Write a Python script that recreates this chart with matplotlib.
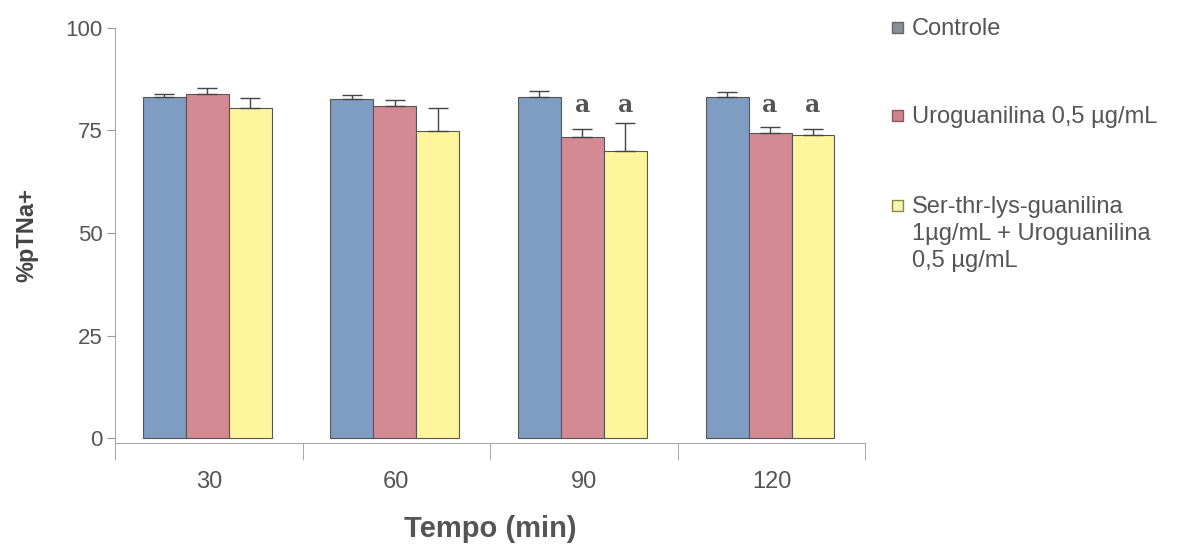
import matplotlib
matplotlib.use("Agg")
import matplotlib.pyplot as plt
import numpy as np
from matplotlib.patches import Rectangle

categories = ["30", "60", "90", "120"]
series_names = ["Controle", "Uroguanilina 0,5 µg/mL",
                "Ser-thr-lys-guanilina\n1µg/mL + Uroguanilina\n0,5 µg/mL"]
controle = [83.2, 82.7, 83.2, 83.2]
urog = [83.9, 81.0, 73.4, 74.4]
ser = [80.5, 74.9, 70.0, 73.9]
controle_err = [0.7, 0.9, 1.4, 1.2]
urog_err = [1.5, 1.4, 2.0, 1.5]
ser_err = [2.4, 5.6, 6.8, 1.5]
marks = [["", "", ""], ["", "", ""], ["", "a", "a"], ["", "a", "a"]]
yticks = [0, 25, 50, 75, 100]

bar_colors = ["#7f9cc2", "#d38a92", "#fff59c"]
legend_colors = ["#8a8f96", "#cf8390", "#f3f3b5"]
legend_edges = ["#666666", "#8a5a60", "#8a8a30"]

plt.rcParams['font.family'] = ['Liberation Sans', 'DejaVu Sans']
fig = plt.figure(figsize=(11.77, 5.44), dpi=100)
ax = fig.add_axes([0.0977, 0.1857, 0.6375, 0.763])

x = np.arange(len(categories))
w = 0.229
data = [controle, urog, ser]
errs = [controle_err, urog_err, ser_err]
for i, (vals, e) in enumerate(zip(data, errs)):
    pos = x + (i - 1) * w - 0.008
    ax.bar(pos, vals, width=w, color=bar_colors[i], edgecolor="#555555", linewidth=0.8, zorder=2)
    ax.errorbar(pos, vals, yerr=[np.zeros(len(e)), e], fmt="none", ecolor="#444444",
                elinewidth=1.0, capsize=7, capthick=1.0, zorder=3)
    for j in range(len(categories)):
        if marks[j][i]:
            ax.text(pos[j], 78.3, marks[j][i], ha="center", va="bottom",
                    fontsize=17, fontweight="bold", family=["DejaVu Serif"], color="#555555")

ax.set_xlim(-0.5, len(categories) - 0.5)
ax.set_ylim(-1.2, 100)
ax.set_yticks(yticks)
ax.set_yticklabels([str(t) for t in yticks], fontsize=16, color="#555555")
ax.set_xticks(x)
ax.set_xticklabels(categories, fontsize=17, color="#555555")
ax.set_xticks(np.arange(-0.5, len(categories) + 0.5, 1), minor=True)
ax.tick_params(axis="x", which="major", length=0, pad=20)
ax.tick_params(axis="x", which="minor", length=12, color="#999999")
ax.tick_params(axis="y", length=6, color="#999999", pad=3)
for s in ["top", "right"]:
    ax.spines[s].set_visible(False)
for s in ["left", "bottom"]:
    ax.spines[s].set_color("#aaaaaa")

ax.set_ylabel("%pTNa+", fontsize=17, fontweight="bold", color="#444444", labelpad=19)
ax.set_xlabel("Tempo (min)", fontsize=21, fontweight="bold", color="#555555", labelpad=16)

# legend drawn manually so the marker aligns with the first text line
W, H = 1177, 544
leg_y = [27, 115, 205]
for i in range(3):
    yc = leg_y[i]
    fig.patches.append(Rectangle((892 / W, 1 - (yc + 6) / H), 11 / W, 11 / H,
                                 transform=fig.transFigure, facecolor=legend_colors[i],
                                 edgecolor=legend_edges[i], linewidth=1.0))
    fig.text(912 / W, 1 - (yc - 9) / H, series_names[i], ha="left", va="top",
             fontsize=17, color="#555555", linespacing=1.28)

fig.savefig("out.png", dpi=100)
